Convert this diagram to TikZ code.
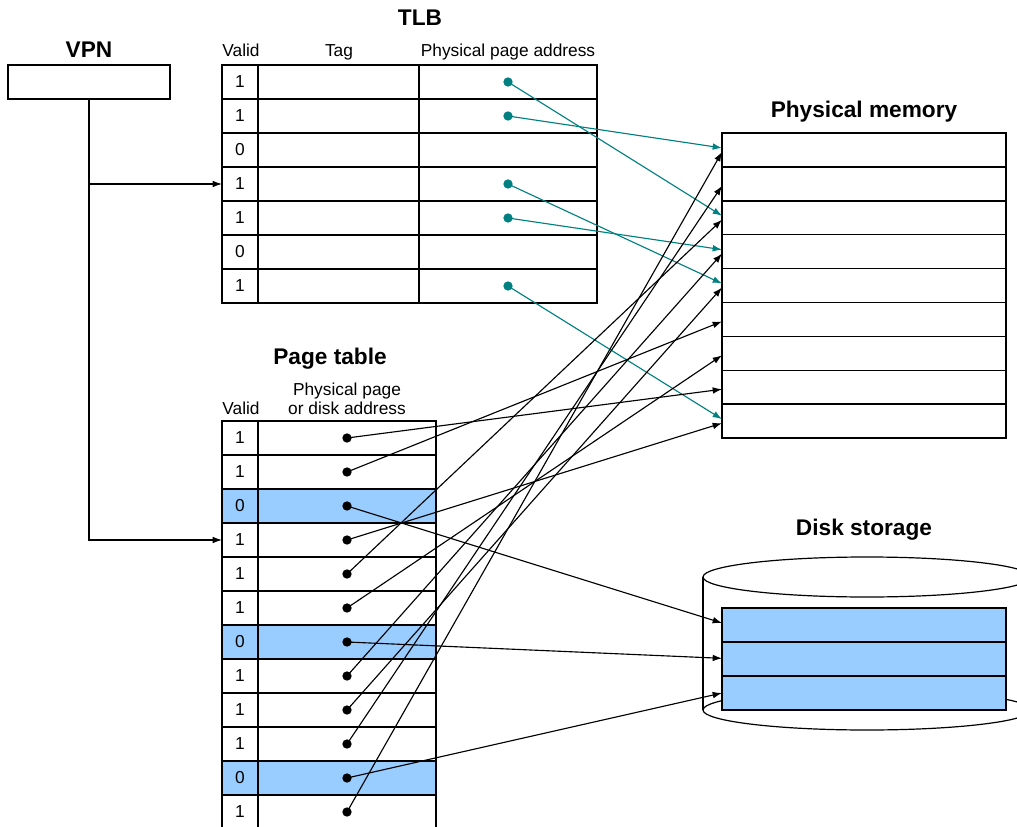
\documentclass[tikz,border=0pt]{standalone}
\usepackage{fontspec}
\setmainfont{Liberation Sans}
\usetikzlibrary{arrows.meta}
\definecolor{tealc}{RGB}{0,128,128}
\definecolor{blueb}{RGB}{153,204,255}
\begin{document}
\begin{tikzpicture}[x=0.75pt,y=-0.75pt,
  every node/.style={inner sep=0pt, outer sep=0pt},
  title/.style={font=\fontsize{17}{20}\selectfont\bfseries, anchor=base},
  lab/.style={font=\fontsize{13}{14.3}\selectfont, anchor=base},
  cell/.style={draw=black, line width=1.1pt, minimum height=25.5pt},
  vcell/.style={cell, minimum width=27pt, font=\fontsize{13}{15}\selectfont},
  tagcell/.style={cell, minimum width=120.75pt},
  ppcell/.style={cell, minimum width=133.5pt},
  acell/.style={cell, minimum width=133.5pt},
  mcell/.style={cell, minimum width=213pt, minimum height=25.425pt},
  dcell/.style={cell, fill=blueb, minimum width=213pt},
  tdot/.style={circle, fill=tealc, minimum size=7pt},
  bdot/.style={circle, fill=black, minimum size=7pt},
  arr/.style={line width=0.85pt, -{Latex[length=7pt,width=5pt]}},
  tarr/.style={arr, draw=tealc, -{Latex[length=7pt,width=5pt,fill=tealc]}},
]
\useasboundingbox (0,0) rectangle (1017,827);

% titles and headers
\node[title] (tlbt) at (420,26) {TLB};
\node[title] (vpnt) at (89,58) {VPN};
\node[lab] (h1) at (241,57) {Valid};
\node[lab] (h2) at (339,57) {Tag};
\node[lab] (h3) at (508,57) {Physical page address};
\node[title] (pmt) at (864,118) {Physical memory};
\node[title] (ptt) at (330,364) {Page table};
\node[lab] (pth1) at (347,395) {Physical page};
\node[lab] (pth2) at (347,414) {or disk address};
\node[lab] (ptv) at (241,414) {Valid};
\node[title] (dst) at (864,535) {Disk storage};

% VPN box
\node[cell, minimum width=121.5pt] (vpn) at (89,82) {};

% TLB
\foreach \v [count=\i from 0] in {1,1,0,1,1,0,1} {
  \pgfmathsetmacro\yy{82+34*\i}
  \node[vcell] (tv\i) at (240,\yy) {\v};
  \node[tagcell] (tt\i) at (338.5,\yy) {};
  \node[ppcell] (tp\i) at (508,\yy) {};
}
\foreach \i in {0,1,3,4,6} { \node[tdot] (td\i) at (tp\i.center) {}; }

% Physical memory
\foreach \i in {0,...,8} {
  \pgfmathsetmacro\yy{133+33.9*(\i+0.5)}
  \node[mcell] (m\i) at (864,\yy) {};
}

% Page table
\foreach \v/\f [count=\i from 0] in {1/white,1/white,0/blueb,1/white,1/white,1/white,0/blueb,1/white,1/white,1/white,0/blueb,1/white} {
  \pgfmathsetmacro\yy{438+34*\i}
  \node[vcell, fill=\f] (pv\i) at (240,\yy) {\v};
  \node[acell, fill=\f] (pa\i) at (347,\yy) {};
  \node[bdot] (pd\i) at (pa\i.center) {};
}

% Disk storage cylinder
\draw[line width=0.9pt] (867,710) ellipse [x radius=123pt, y radius=15pt];
\draw[line width=0.9pt, fill=white] (867,577) ellipse [x radius=123pt, y radius=15pt];
\coordinate (cyl1) at (703,577);
\coordinate (cyl2) at (703,710);
\coordinate (cyl3) at (1031,577);
\coordinate (cyl4) at (1031,710);
\draw[line width=0.9pt] (cyl1) -- (cyl2) (cyl3) -- (cyl4);
\foreach \i in {0,1,2} {
  \node[dcell] (d\i) at (864,625+34*\i) {};
}

% VPN connectors
\draw[arr] (vpn.south) |- (pv3.west);
\draw[arr] (vpn.south |- tv3.west) -- (tv3.west);

% TLB -> memory
\draw[tarr] (td0.center) -- ([yshift=1.5pt]m2.west);
\draw[tarr] (td1.center) -- ([yshift=1.5pt]m0.west);
\draw[tarr] (td3.center) -- ([yshift=1.5pt]m4.west);
\draw[tarr] (td4.center) -- ([yshift=1.5pt]m3.west);
\draw[tarr] (td6.center) -- ([yshift=1.5pt]m8.west);

% Page table -> memory / disk
\draw[arr] (pd0.center) -- ([yshift=-1.5pt]m7.west);
\draw[arr] (pd1.center) -- ([yshift=-1.5pt]m5.west);
\draw[arr] (pd2.center) -- ([yshift=1.5pt]d0.west);
\draw[arr] (pd3.center) -- ([yshift=-1.5pt]m8.west);
\draw[arr] (pd4.center) -- ([yshift=-1.5pt]m2.west);
\draw[arr] (pd5.center) -- ([yshift=-1.5pt]m6.west);
\draw[arr] (pd6.center) -- ([yshift=0.5pt]d1.west);
\draw[arr] (pd7.center) -- ([yshift=-1.5pt]m3.west);
\draw[arr] (pd8.center) -- ([yshift=-1.5pt]m4.west);
\draw[arr] (pd9.center) -- ([yshift=-1.5pt]m1.west);
\draw[arr] (pd10.center) -- (d2.west);
\draw[arr] (pd11.center) -- ([yshift=-1.5pt]m0.west);
\end{tikzpicture}
\end{document}
